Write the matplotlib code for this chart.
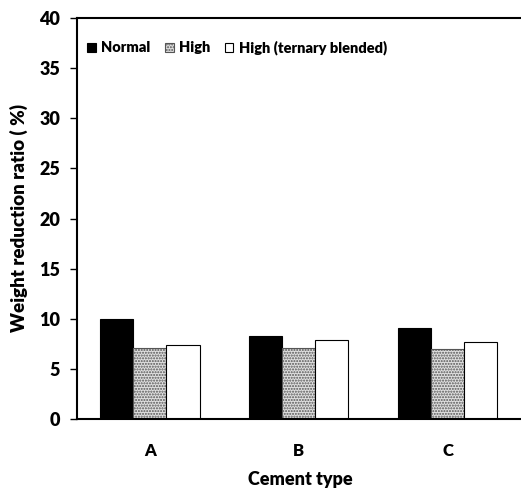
import matplotlib
matplotlib.use("Agg")
import matplotlib.pyplot as plt
import numpy as np
from matplotlib.patches import Patch

plt.rcParams["font.family"] = ["Lato", "DejaVu Sans"]
plt.rcParams["font.weight"] = "heavy"

cement_types = ["A", "B", "C"]
series_names = ["Normal", "High", "High (ternary blended)"]
normal = [10.0, 8.3, 9.1]
high = [7.1, 7.1, 7.0]
high_ternary = [7.4, 7.9, 7.7]

# bar styles: solid black, stippled grey, open white
styles = [
    dict(facecolor="black", edgecolor="black", hatch=None),
    dict(facecolor="#e0e0e0", edgecolor="#555555", hatch="......"),
    dict(facecolor="white", edgecolor="black", hatch=None),
]

fig = plt.figure(figsize=(5.21, 4.88), dpi=100)
ax = fig.add_axes([77 / 521, (488 - 419) / 488, 446 / 521, 401 / 488])

x = np.arange(len(cement_types))
w = 0.222
for k, (vals, st) in enumerate(zip([normal, high, high_ternary], styles)):
    ax.bar(x + (k - 1) * w, vals, width=w, linewidth=0.8, **st)

ax.set_xlim(-0.49, 2.505)
ax.set_ylim(0, 40)
ax.set_yticks(range(0, 41, 5))
ax.set_xticks(x)
ax.set_xticklabels(cement_types)
ax.tick_params(axis="x", length=0, pad=17, labelsize=12)
ax.tick_params(axis="y", direction="out", length=5, width=1, labelsize=13, pad=7)
for sp in ax.spines.values():
    sp.set_linewidth(1.5)

ax.set_xlabel("Cement type", fontsize=13, fontweight="heavy", labelpad=9)
ax.set_ylabel("Weight reduction ratio ( %)", fontsize=13.5, fontweight="heavy", labelpad=8)

handles = [Patch(linewidth=0.8, **st) for st in styles]
ax.legend(handles, series_names, loc="upper left", bbox_to_anchor=(0.0, 0.97),
          ncol=3, frameon=False, fontsize=10.5, handlelength=0.6, handleheight=0.6,
          handletextpad=0.35, columnspacing=1.0, borderaxespad=0.3)

fig.savefig("out.png", dpi=100)
